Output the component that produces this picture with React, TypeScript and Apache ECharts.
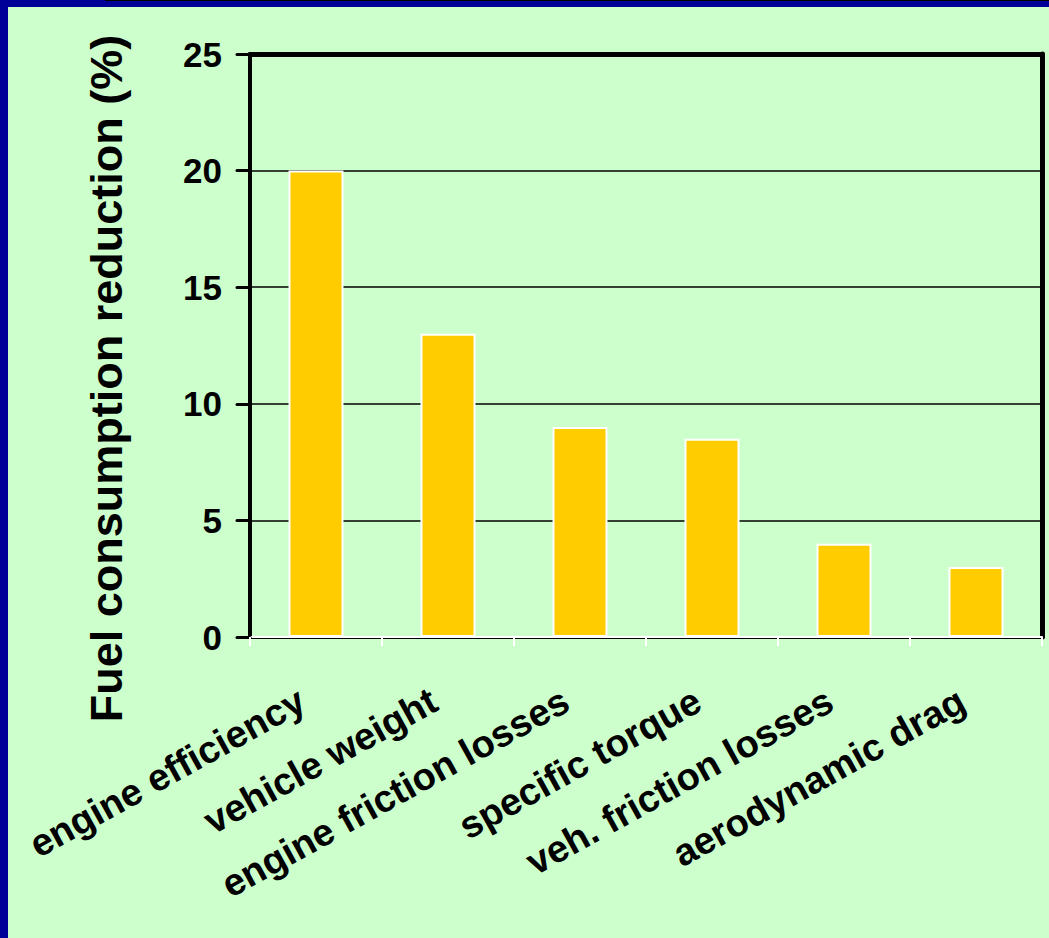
import React, { useEffect, useRef } from "react";
import * as echarts from "echarts";

const categories = [
  "engine efficiency",
  "vehicle weight",
  "engine friction losses",
  "specific torque",
  "veh. friction losses",
  "aerodynamic drag",
];
const reductionValues = [20, 13, 9, 8.5, 4, 3];
const yAxisTitle = "Fuel consumption reduction (%)";
const yMin = 0;
const yMax = 25;
const yInterval = 5;

const FONT = "'Liberation Sans', Arial, sans-serif";

export default function App() {
  const ref = useRef<HTMLDivElement>(null);

  useEffect(() => {
    if (!ref.current) return;
    const chart = echarts.init(ref.current, undefined, { renderer: "svg" });
    chart.setOption({
      animation: false,
      backgroundColor: "#CCFFCC",
      grid: { left: 242, right: 7, top: 47, bottom: 301, containLabel: false },
      xAxis: [
        {
          type: "category",
          data: categories,
          position: "bottom",
          axisLine: { show: true, lineStyle: { color: "#000000", width: 3 } },
          axisTick: { show: false },
          axisLabel: { show: false },
          splitLine: { show: false },
        },
        {
          type: "category",
          data: categories,
          position: "bottom",
          offset: 3,
          axisLine: { show: true, lineStyle: { color: "#FFFFFF", width: 2 } },
          axisTick: { show: true, alignWithLabel: false, length: 9, lineStyle: { color: "#FFFFFF", width: 2 } },
          axisLabel: {
            show: true,
            interval: 0,
            rotate: 29,
            margin: 50,
            padding: [0, 16, 0, 0],
            color: "#000000",
            fontFamily: FONT,
            fontWeight: "bold",
            fontSize: 38,
          },
          splitLine: { show: false },
        },
        {
          type: "category",
          data: categories,
          position: "top",
          axisLine: { show: true, lineStyle: { color: "#000000", width: 5 } },
          axisTick: { show: false },
          axisLabel: { show: false },
          splitLine: { show: false },
        },
      ],
      yAxis: [
        {
          type: "value",
          min: yMin,
          max: yMax,
          interval: yInterval,
          position: "left",
          name: yAxisTitle,
          nameLocation: "middle",
          nameGap: 121,
          nameTextStyle: {
            color: "#000000",
            fontFamily: FONT,
            fontWeight: "bold",
            fontSize: 45,
            padding: [0, 66, 0, 0],
          },
          axisLine: { show: true, lineStyle: { color: "#000000", width: 4 } },
          axisTick: { show: true, inside: false, length: 13, lineStyle: { color: "#000000", width: 3, cap: "round" } },
          axisLabel: { color: "#000000", fontFamily: FONT, fontWeight: "bold", fontSize: 35, margin: 28 },
          splitLine: { show: true, lineStyle: { color: "#000000", width: 1.5 } },
        },
        {
          type: "value",
          min: yMin,
          max: yMax,
          interval: yInterval,
          position: "right",
          axisLine: { show: true, lineStyle: { color: "#000000", width: 5 } },
          axisTick: { show: false },
          axisLabel: { show: false },
          splitLine: { show: false },
        },
      ],
      series: [
        {
          type: "bar",
          data: reductionValues,
          xAxisIndex: 0,
          yAxisIndex: 0,
          barWidth: 55,
          itemStyle: { color: "#FFCC00", borderColor: "#FFFFFF", borderWidth: 2 },
        },
      ],
    });
    return () => chart.dispose();
  }, []);

  return (
    <div
      style={{
        position: "fixed",
        left: 0,
        top: 0,
        width: 1049,
        height: 938,
        background: "#000099",
        overflow: "hidden",
      }}
    >
      <div style={{ position: "absolute", left: 105, top: 0, right: 0, height: 1, background: "#000000" }} />
      <div ref={ref} style={{ position: "absolute", left: 8, top: 7, width: 1041, height: 931 }} />
    </div>
  );
}
